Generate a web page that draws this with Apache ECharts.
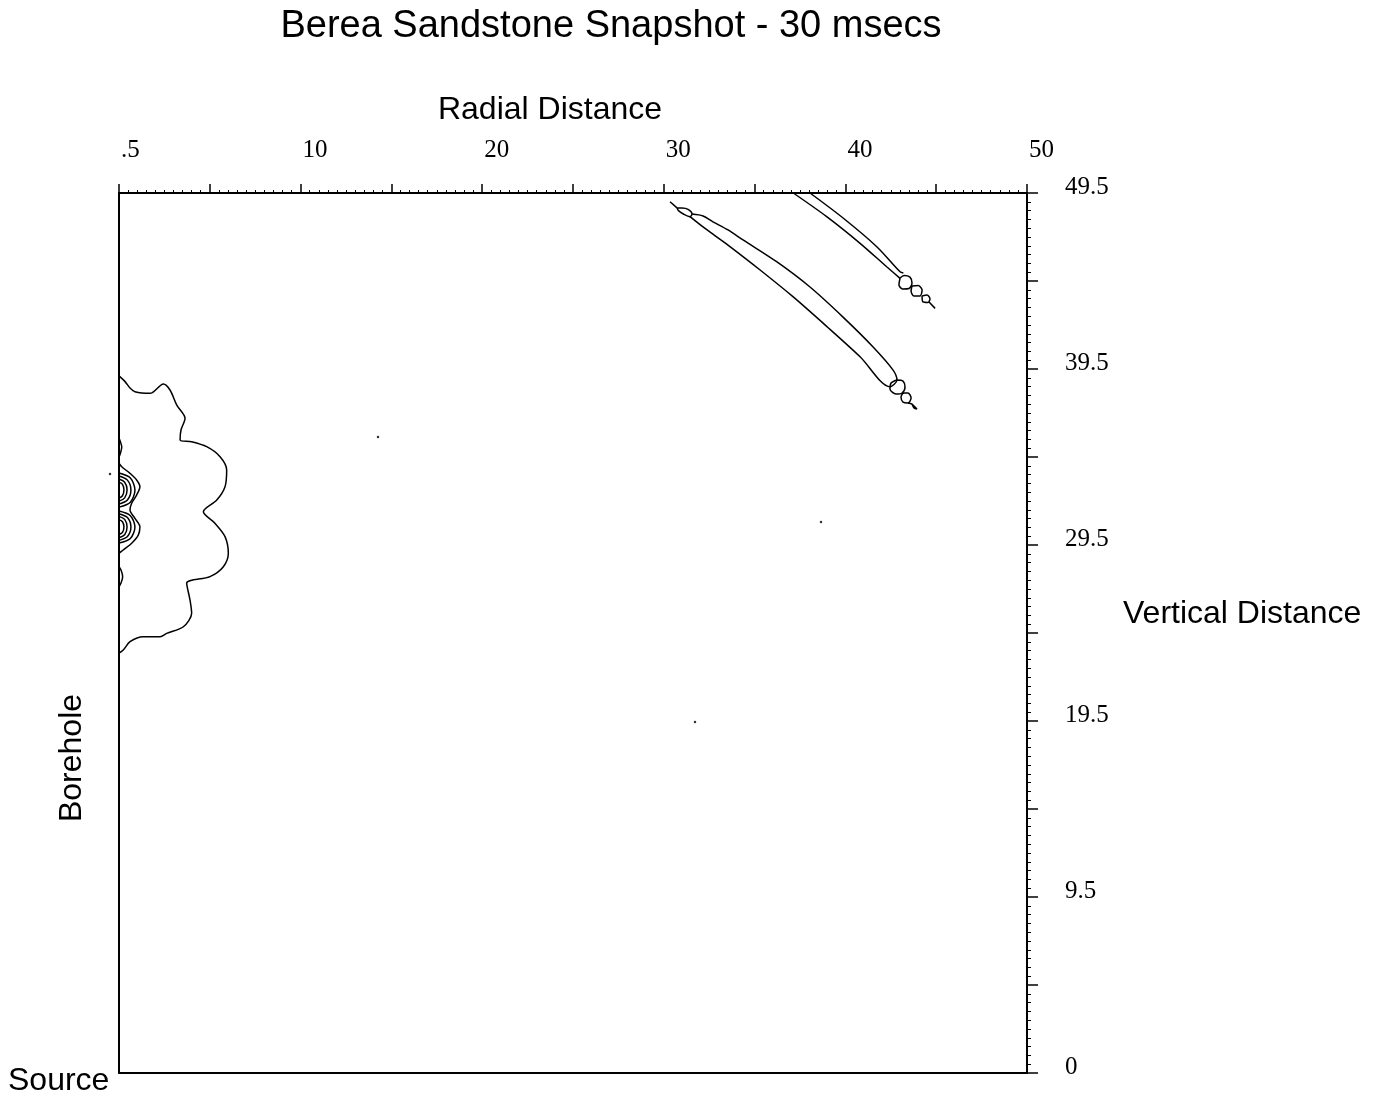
<!DOCTYPE html>
<html><head><meta charset="utf-8">
<script src="https://cdn.jsdelivr.net/npm/echarts@6/dist/echarts.min.js"></script>
<style>html,body{margin:0;padding:0;background:#fff}#c{width:1373px;height:1097px}</style>
</head><body><div id="c"></div><script>
// ---- tick labels ----
const xTickLabels = ['.5', '10', '20', '30', '40', '50'];
const xLabelValues = [0.5, 10.4, 20.3, 30.2, 40.1, 50];
const yTickLabels = ['0', '9.5', '19.5', '29.5', '39.5', '49.5'];
const yLabelValues = [0, 9.9, 19.8, 29.7, 39.6, 49.5];

// ---- contour lines (radial distance, vertical distance) ----
const outerContour = [[0.5,39.21],[0.83,38.89],[1.10,38.53],[1.37,38.32],[2.19,38.23],[2.92,38.76],[3.28,38.42],[3.65,37.57],[4.10,36.83],[3.88,36.17],[3.83,35.61],[4.46,35.51],[5.28,35.23],[6.01,34.67],[6.37,33.92],[6.28,32.98],[5.83,32.23],[5.10,31.57],[5.73,30.92],[6.28,30.17],[6.46,29.23],[6.19,28.48],[5.46,27.92],[4.19,27.55],[4.37,26.61],[4.46,25.86],[4.01,25.10],[3.10,24.73],[2.74,24.54],[1.82,24.54],[1.10,24.26],[0.73,23.79],[0.5,23.62]];
const innerContour = [[0.5,34.30],[0.65,34.10],[1.10,33.73],[1.46,33.36],[1.64,32.98],[1.46,32.51],[1.19,32.05],[1.10,31.67],[1.37,31.20],[1.64,30.73],[1.55,30.26],[1.19,29.80],[0.73,29.42],[0.5,29.23]];
const upperLobeArcs = [
  [[0.5,33.75],[1.12,33.47],[1.37,32.79],[1.12,32.11],[0.5,31.83]],
  [[0.5,33.58],[0.96,33.35],[1.15,32.79],[0.96,32.23],[0.5,32.00]],
  [[0.5,33.41],[0.81,33.23],[0.94,32.79],[0.81,32.35],[0.5,32.17]],
  [[0.5,33.24],[0.69,33.11],[0.77,32.79],[0.69,32.47],[0.5,32.34]]
];
const lowerLobeArcs = [
  [[0.5,31.61],[1.12,31.35],[1.37,30.71],[1.12,30.07],[0.5,29.81]],
  [[0.5,31.46],[0.96,31.24],[1.15,30.71],[0.96,30.18],[0.5,29.96]],
  [[0.5,31.31],[0.81,31.14],[0.94,30.71],[0.81,30.28],[0.5,30.11]],
  [[0.5,31.13],[0.69,31.01],[0.77,30.71],[0.69,30.41],[0.5,30.29]]
];
const topNub = [[0.5,35.72],[0.58,35.50],[0.65,35.21],[0.58,34.87],[0.5,34.65]];
const bottomNub = [[0.5,28.48],[0.61,28.29],[0.70,27.92],[0.61,27.56],[0.5,27.35]];

const lowerFrontTip = [[30.54,49.01],[30.92,48.66]];
const lowerFrontStartLoop = [[30.92,48.66],[31.19,48.66],[31.55,48.57],[31.74,48.32],[31.63,48.17],[31.27,48.32],[31.00,48.51],[30.92,48.66]];
const lowerFront = [[31.74,48.32],[32.34,48.21],[32.88,47.88],[33.70,47.42],[34.52,46.86],[36.37,45.62],[38.17,44.21],[39.97,42.52],[41.61,40.84],[42.70,39.54],[42.91,38.98],[42.53,38.60],[40.90,40.29],[39.10,41.98],[37.24,43.67],[35.45,45.17],[33.70,46.57],[33.10,47.02],[32.34,47.59],[31.63,48.17]];
const lowerFrontLoopA = [[42.91,38.98],[43.24,38.92],[43.35,38.59],[43.19,38.25],[42.86,38.19],[42.53,38.48],[42.59,38.81],[42.91,38.98]];
const lowerFrontLoopB = [[43.24,38.25],[43.51,38.25],[43.68,37.97],[43.51,37.69],[43.24,37.74],[43.13,38.02],[43.24,38.25]];
const lowerFrontTail = [[43.51,37.69],[43.73,37.63],[44.00,37.35],[43.84,37.41],[43.73,37.63]];

const upperFrontLeft = [[37.26,49.5],[39.08,48.17],[40.90,46.67],[42.35,45.35],[43.08,44.70]];
const upperFrontRight = [[38.17,49.5],[39.99,48.08],[41.81,46.48],[43.08,45.07],[43.26,45.00]];
const upperFrontLoop1 = [[43.08,44.72],[43.30,44.86],[43.62,44.77],[43.73,44.44],[43.57,44.13],[43.24,44.10],[43.02,44.32],[43.08,44.72]];
const upperFrontLoop2 = [[43.73,44.27],[44.06,44.30],[44.28,44.04],[44.17,43.71],[43.84,43.71],[43.68,43.99],[43.73,44.27]];
const upperFrontLoop3 = [[44.28,43.71],[44.55,43.76],[44.71,43.54],[44.60,43.34],[44.33,43.37],[44.28,43.71]];
const upperFrontTail = [[44.66,43.37],[44.99,43.01]];

const strayDots = [[14.62,35.77],[38.77,30.99],[31.90,19.74],[0.01,33.69]];

// ---- axis decoration (tick positions) ----
const xMin = 0.5, xMax = 50, yMin = 0, yMax = 49.5;
const xMajor = [], xMinor = [], yMajor = [], yMinor = [];
for (let k = 0; k <= 10; k++) { xMajor.push(+(xMin + k * 4.95).toFixed(4)); yMajor.push(+(yMin + k * 4.95).toFixed(4)); }
for (let k = 0; k <= 100; k++) { if (k % 10) { xMinor.push(+(xMin + k * 0.495).toFixed(4)); yMinor.push(+(yMin + k * 0.495).toFixed(4)); } }

const SANS = '"Liberation Sans", Arial, Helvetica, sans-serif';
const SERIF = '"Liberation Serif", "Times New Roman", serif';
const INK = '#000';

function labelFor(values, labels) {
  return function (v) {
    for (let i = 0; i < values.length; i++) if (Math.abs(values[i] - v) < 1e-6) return labels[i];
    return '';
  };
}

const contourSets = [outerContour, innerContour, ...upperLobeArcs, ...lowerLobeArcs, topNub, bottomNub,
  lowerFrontTip, lowerFrontStartLoop, lowerFront, lowerFrontLoopA, lowerFrontLoopB, lowerFrontTail,
  upperFrontLeft, upperFrontRight, upperFrontLoop1, upperFrontLoop2, upperFrontLoop3, upperFrontTail];

const series = contourSets.map(d => ({
  type: 'line', xAxisIndex: 0, yAxisIndex: 0, data: d, symbol: 'none', showSymbol: false,
  smooth: 0.3, clip: false, silent: true,
  lineStyle: { color: INK, width: 1.5 }
}));
series.push({
  type: 'scatter', xAxisIndex: 0, yAxisIndex: 0, data: strayDots, symbolSize: 2.5, clip: false, silent: true,
  itemStyle: { color: INK }
});

const lineAx = { show: true, onZero: false, lineStyle: { color: INK, width: 2 } };
const noAx = { show: false, onZero: false };

const option = {
  animation: false,
  backgroundColor: '#fff',
  grid: { left: 119, top: 193, width: 908, height: 880, show: false },
  xAxis: [
    { type: 'value', position: 'top', min: xMin, max: xMax, axisLine: lineAx,
      axisTick: { show: true, length: 9, customValues: xMajor, lineStyle: { color: INK, width: 1.5 } },
      axisLabel: { show: true, customValues: xLabelValues, formatter: labelFor(xLabelValues, xTickLabels),
        align: 'left', margin: 30, padding: [0, 0, 0, 2], fontSize: 25, fontFamily: SERIF, color: '#000' },
      splitLine: { show: false } },
    { type: 'value', position: 'top', min: xMin, max: xMax, axisLine: noAx,
      axisTick: { show: true, length: 3, customValues: xMinor, lineStyle: { color: INK, width: 1 } },
      axisLabel: { show: false }, splitLine: { show: false } },
    { type: 'value', position: 'bottom', min: xMin, max: xMax, axisLine: lineAx,
      axisTick: { show: false }, axisLabel: { show: false }, splitLine: { show: false } }
  ],
  yAxis: [
    { type: 'value', position: 'right', min: yMin, max: yMax, axisLine: lineAx,
      axisTick: { show: true, length: 11, customValues: yMajor, lineStyle: { color: INK, width: 1.5 } },
      axisLabel: { show: true, customValues: yLabelValues, formatter: labelFor(yLabelValues, yTickLabels),
        align: 'left', verticalAlign: 'bottom', lineHeight: 12, margin: 38, fontSize: 25, fontFamily: SERIF, color: '#000' },
      splitLine: { show: false } },
    { type: 'value', position: 'right', min: yMin, max: yMax, axisLine: noAx,
      axisTick: { show: true, length: 4, customValues: yMinor, lineStyle: { color: INK, width: 1 } },
      axisLabel: { show: false }, splitLine: { show: false } },
    { type: 'value', position: 'left', min: yMin, max: yMax, axisLine: lineAx,
      axisTick: { show: false }, axisLabel: { show: false }, splitLine: { show: false } }
  ],
  graphic: [
    { type: 'text', x: 611, y: 27, style: { text: 'Berea Sandstone Snapshot - 30 msecs', fontSize: 38, fontFamily: SANS, fill: '#000', align: 'center', verticalAlign: 'middle' } },
    { type: 'text', x: 550, y: 110, style: { text: 'Radial Distance', fontSize: 32, fontFamily: SANS, fill: '#000', align: 'center', verticalAlign: 'middle' } },
    { type: 'text', x: 1123, y: 614, style: { text: 'Vertical Distance', fontSize: 32, fontFamily: SANS, fill: '#000', align: 'left', verticalAlign: 'middle' } },
    { type: 'text', x: 72, y: 758, rotation: Math.PI / 2, style: { text: 'Borehole', fontSize: 32, fontFamily: SANS, fill: '#000', align: 'center', verticalAlign: 'middle' } },
    { type: 'text', x: 8, y: 1081, style: { text: 'Source', fontSize: 32, fontFamily: SANS, fill: '#000', align: 'left', verticalAlign: 'middle' } }
  ],
  series: series
};

const chart = echarts.init(document.getElementById('c'), null, { renderer: 'canvas' });
chart.setOption(option);
</script></body></html>
